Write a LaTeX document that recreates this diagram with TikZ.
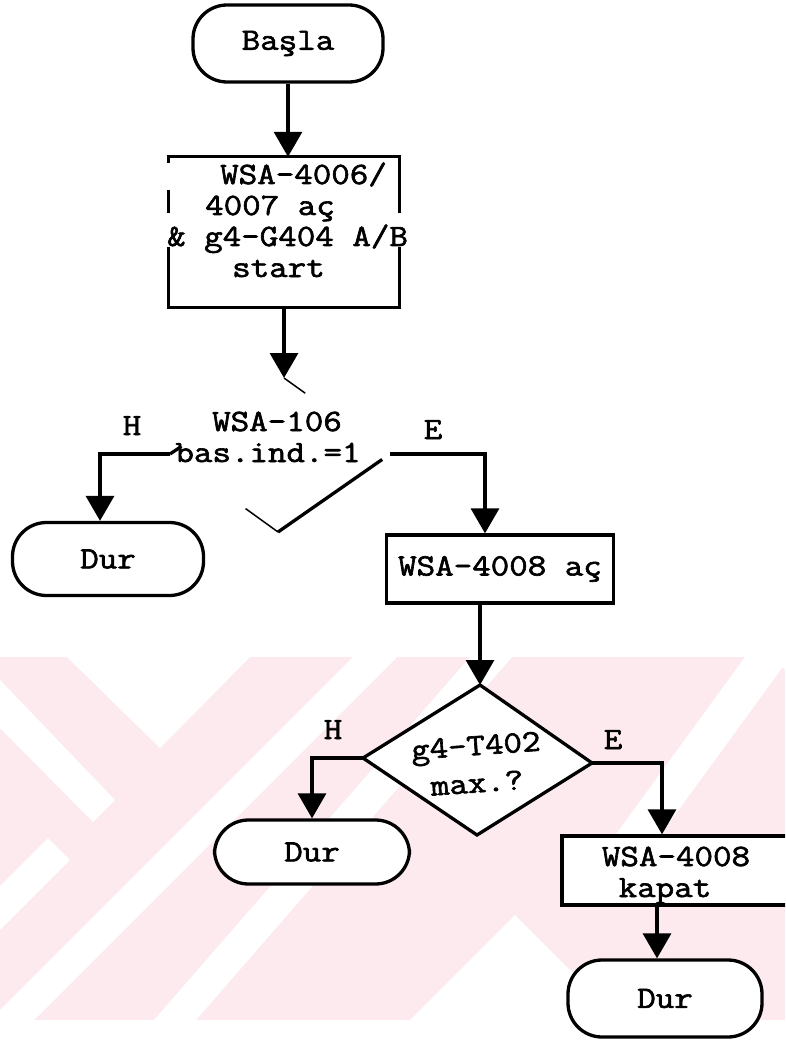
\documentclass[tikz,border=0pt]{standalone}
\usepackage{fontspec}
\newfontfamily\tw{Latin Modern Mono}[FakeBold=2, FakeStretch=1.16]
\usetikzlibrary{arrows.meta,calc}
\definecolor{wm}{RGB}{252,234,238}
\begin{document}
\begin{tikzpicture}[x=1pt,y=-1pt,
  every node/.style={font=\tw\fontsize{31}{31}\selectfont, inner sep=0pt},
  ln/.style={line width=3.3pt},
  thinln/.style={line width=1.5pt},
  arr/.style={ln,-{Triangle[width=28pt,length=25pt]}},
  term/.style={draw, ln, rounded corners=34pt},
  proc/.style={draw, ln},
  wmw/.style={fill=white}
]
\useasboundingbox (0,0) rectangle (785,1040);
\clip (0,0) rectangle (785,1040);
\fill[white] (0,0) rectangle (785,1040);
% watermark
\fill[wm] (0,657) rectangle (785,1020);
\fill[wmw] (0,680) -- (115,800) -- (93,822) -- (0,728) -- cycle;
\fill[wmw] (0,930) -- (70,860) -- (48,838) -- (0,886) -- cycle;
\fill[wmw] (67,657) -- (250,657) -- (160,748) -- cycle;
\fill[wmw] (353,657) -- (397,657) -- (34,1020) -- (-10,1020) -- cycle;
\fill[wmw] (470,657) -- (512,657) -- (196,1020) -- (154,1020) -- cycle;
\fill[wmw] (515,915) -- (620,1020) -- (410,1020) -- cycle;
\fill[wmw] (745,657) -- (790,657) -- (613,900) -- (568,900) -- cycle;
\fill[wmw] (772,657) -- (790,657) -- (790,675) -- cycle;

% start
\node[term, minimum width=190pt, minimum height=77pt] (basla) at (288,43.5) {Başla};

% box 1 (broken borders)
\node[minimum width=230pt, minimum height=150pt] (b1) at (284,232) {};
\draw[ln, line cap=rect] (b1.north west) -- (b1.north east);
\draw[ln, line cap=rect] (b1.south west) -- (b1.south east);
\draw[ln] (b1.north west) -- ++(0,6);
\draw[ln] ($(b1.north west)+(0,33)$) -- ++(0,23);
\draw[ln] ($(b1.south west)+(0,-60)$) -- (b1.south west);
\draw[ln] (b1.north east) -- ++(0,56);
\draw[ln] ($(b1.south east)+(0,-60)$) -- (b1.south east);
\node[anchor=base west] (t1a) at (220,184) {WSA-4006/};
\node[anchor=base west] (t1b) at (205,215) {4007 aç};
\node[anchor=base west] (t1c) at (167,246) {\& g4-G404 A/B};
\node[anchor=base west] (t1d) at (232,277) {start};
\draw[arr] (basla.south) -- (basla.south |- b1.north);

% decision 1 (faded)
\coordinate (d1t) at (284,378);
\coordinate (d1l) at (170,454);
\coordinate (d1r) at (390,454);
\coordinate (d1b) at (278,532);
\draw[arr] (b1.south) -- (d1t);
\draw[thinln] (d1t) -- ($(d1t)!0.2!(d1r)$);
\draw[ln] ($(d1l)!0.1!(d1t)$) -- (d1l);
\draw[ln] ($(d1r)!0.07!(d1b)$) -- (d1b);
\draw[thinln] ($(d1b)!0.3!(d1l)$) -- (d1b);
\node[anchor=base] (d1a) at (277,431) {WSA-106};
\node[anchor=base] (d1c) at (268,462) {bas.ind.=1};
\node[anchor=base] (h1l) at (132,435) {H};
\node[anchor=base] (e1l) at (433,439) {E};

\node[term, minimum width=191pt, minimum height=73pt] (dur1) at (108,559) {Dur};
\coordinate (h1) at (100,454);
\draw[arr] (d1l) -- (h1) -- (h1 |- dur1.north);

\node[proc, minimum width=227pt, minimum height=68pt] (b2) at (500,569) {WSA-4008 aç};
\coordinate (e1) at (485,454);
\draw[arr] (d1r) -- (e1) -- (e1 |- b2.north);

% decision 2
\coordinate (d2t) at (480,685);
\coordinate (d2l) at (363,758);
\coordinate (d2r) at (592,763);
\coordinate (d2b) at (477,835);
\draw[arr] (d2t |- b2.south) -- (d2t);
\fill[white] (d2t) -- (d2r) -- (d2b) -- (d2l) -- cycle;
\draw[ln, line join=miter] (d2t) -- (d2r) -- (d2b) -- (d2l) -- cycle;
\node[rotate=4] (d2a) at (476,749) {g4-T402};
\node[rotate=4] (d2c) at (477,783) {max.?};
\node[anchor=base] (h2l) at (333,739) {H};
\node[anchor=base] (e2l) at (613,749) {E};

\node[term, fill=white, minimum width=195pt, minimum height=64pt] (dur2) at (312,852) {Dur};
\coordinate (h2) at (312,758);
\draw[arr] (d2l) -- (h2) -- (h2 |- dur2.north);

\node[proc, fill=white, minimum width=270pt, minimum height=69pt] (b3) at (697,870.5) {};
\node[anchor=base] (b3a) at (676,866) {WSA-4008};
\node[anchor=base] (b3b) at (665,897) {kapat};
\coordinate (e2) at (662,763);
\draw[arr] (d2r) -- (e2) -- (e2 |- b3.north);

\node[term, fill=white, minimum width=194pt, minimum height=77pt] (dur3) at (665,998.5) {Dur};
\coordinate (x3) at (657,905);
\draw[arr] (x3) -- (x3 |- dur3.north);
\end{tikzpicture}
\end{document}
